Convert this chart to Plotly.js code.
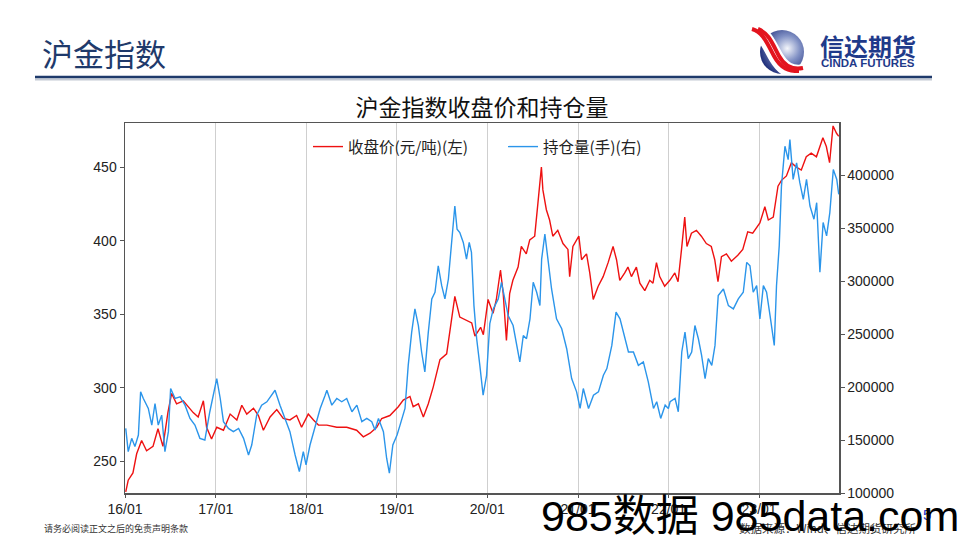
<!DOCTYPE html>
<html>
<head>
<meta charset="utf-8">
<script src="https://cdn.plot.ly/plotly-3.0.1.min.js"></script>
<style>html,body{margin:0;padding:0;background:#fff;}#chart{width:960px;height:540px;}</style>
</head>
<body>
<div id="chart"></div>
<script>
// ---- Data ----
const redDates = ['2016-01-04','2016-01-14','2016-02-02','2016-02-17','2016-03-08','2016-03-28','2016-04-23','2016-05-13','2016-06-02','2016-06-22','2016-07-07','2016-07-27','2016-08-23','2016-09-11','2016-10-02','2016-10-22','2016-11-12','2016-11-25','2016-12-15',
'2017-01-05','2017-02-01','2017-02-28','2017-03-27','2017-04-16','2017-05-06','2017-06-02','2017-06-22','2017-07-12','2017-08-08','2017-09-04','2017-09-30','2017-10-27','2017-11-23','2017-12-13',
'2018-01-09','2018-01-30','2018-02-19','2018-03-25','2018-05-04','2018-06-13','2018-07-23','2018-08-19','2018-09-15','2018-10-12','2018-11-01','2018-12-04',
'2019-01-07','2019-01-27','2019-02-23','2019-03-08','2019-03-29','2019-04-18','2019-05-08','2019-05-28','2019-06-24','2019-07-21','2019-08-10','2019-08-23','2019-09-12','2019-10-09','2019-10-30','2019-11-12','2019-12-05','2019-12-16',
'2020-01-04','2020-01-24','2020-02-06','2020-02-23','2020-03-05','2020-03-18','2020-03-31','2020-04-13','2020-05-04','2020-05-17','2020-06-06','2020-06-20','2020-07-10','2020-07-23','2020-08-06','2020-08-12','2020-08-26','2020-09-08','2020-09-21','2020-10-11','2020-11-01','2020-11-21','2020-11-28','2020-12-11',
'2021-01-04','2021-01-15','2021-02-04','2021-02-17','2021-03-03','2021-03-23','2021-04-12','2021-05-02','2021-05-22','2021-06-05','2021-06-18','2021-07-08','2021-07-21','2021-08-04','2021-08-24','2021-09-07','2021-09-27','2021-10-17','2021-10-30','2021-11-13','2021-11-26','2021-12-16',
'2022-01-06','2022-01-26','2022-02-08','2022-02-22','2022-03-07','2022-03-16','2022-04-03','2022-04-23','2022-05-13','2022-06-02','2022-06-22','2022-07-06','2022-07-19','2022-08-02','2022-08-22','2022-09-11','2022-10-07','2022-10-27','2022-11-16','2022-12-06',
'2023-01-04','2023-01-24','2023-02-07','2023-02-27','2023-03-18','2023-04-01','2023-04-21','2023-05-11','2023-05-31','2023-06-20','2023-07-10','2023-07-30','2023-08-20','2023-09-15','2023-09-29','2023-10-12','2023-10-26','2023-11-09','2023-11-18'];
const redValues = [229,237,242,255,264,257,260,272,260,283,296,289,291,287,283,280,291,273,265,
273,271,282,278,288,282,286,281,271,280,285,279,278,281,273,
282,278,274.5,274.5,273,273,271,266.5,269,273,279,281,
287,291.5,294,287,289,280,289,300.5,319,323,346,362,348,346,344,335,341,336,
360,350.5,359.6,380,364,332,364,373,382,396,391,400.5,403,425.5,450,434.5,421,414,403,407,398,394,375.5,396,
403,387,391,378,360,369,375.5,385,396,387,373,378,382,375.5,382,371,366,373,371,385,375.5,369,
373,378,372,394,416,396,405,407,403,398,396,387,372,389,391,386,390,394,406,405,
412,423,414,416,437,441,444,453,450,448,457,459.5,457,470,464,453,478,473,471];

const blueDates = ['2016-01-04','2016-01-14','2016-01-28','2016-02-10','2016-02-24','2016-03-04','2016-03-15','2016-04-04','2016-04-18','2016-05-01','2016-05-14','2016-05-28','2016-06-10','2016-06-24','2016-07-03','2016-07-21','2016-08-10','2016-08-30','2016-09-19','2016-10-09','2016-10-29','2016-11-18','2016-12-08',
'2017-01-05','2017-01-19','2017-02-01','2017-02-21','2017-03-13','2017-04-03','2017-04-23','2017-05-13','2017-05-26','2017-06-15','2017-07-05','2017-07-26','2017-08-15','2017-08-28','2017-09-17','2017-10-07','2017-10-27','2017-11-17','2017-12-04','2017-12-20','2017-12-31',
'2018-01-16','2018-02-06','2018-02-26','2018-03-18','2018-03-25','2018-04-14','2018-05-04','2018-05-24','2018-06-13','2018-07-04','2018-07-24','2018-08-13','2018-09-02','2018-09-22','2018-10-05','2018-10-19','2018-11-08','2018-11-21','2018-12-02','2018-12-16',
'2019-01-02','2019-01-14','2019-02-03','2019-02-16','2019-03-02','2019-03-15','2019-03-29','2019-04-11','2019-04-24','2019-05-08','2019-05-22','2019-06-04','2019-06-17','2019-07-01','2019-07-14','2019-07-28','2019-08-10','2019-08-23','2019-09-01','2019-09-12','2019-09-26','2019-10-09','2019-10-20','2019-10-29','2019-11-08','2019-11-19','2019-12-02','2019-12-15','2019-12-29',
'2020-01-11','2020-01-25','2020-02-14','2020-02-27','2020-03-12','2020-03-25','2020-04-14','2020-05-04','2020-05-11','2020-05-25','2020-06-07','2020-06-21','2020-07-04','2020-07-18','2020-07-31','2020-08-07','2020-08-20','2020-09-03','2020-09-16','2020-10-06','2020-10-27','2020-11-16','2020-12-06','2020-12-26',
'2021-01-09','2021-01-22','2021-02-12','2021-03-04','2021-03-24','2021-04-13','2021-04-27','2021-05-17','2021-06-03','2021-06-19','2021-07-03','2021-07-23','2021-08-12','2021-09-01','2021-09-21','2021-10-11','2021-11-01','2021-11-14','2021-11-30','2021-12-18','2021-12-31',
'2022-01-07','2022-01-27','2022-02-09','2022-02-23','2022-03-08','2022-03-21','2022-04-04','2022-04-17','2022-05-01','2022-05-14','2022-05-28','2022-06-10','2022-06-24','2022-07-07','2022-07-20','2022-08-10','2022-08-30','2022-09-19','2022-10-09','2022-10-29','2022-11-12','2022-11-25','2022-12-08','2022-12-22',
'2023-01-04','2023-01-18','2023-01-31','2023-02-14','2023-03-03','2023-03-12','2023-03-23','2023-04-01','2023-04-15','2023-04-28','2023-05-05','2023-05-18','2023-06-01','2023-06-14','2023-06-28','2023-07-11','2023-07-25','2023-08-10','2023-08-21','2023-09-03','2023-09-16','2023-09-30','2023-10-13','2023-10-27','2023-11-10','2023-11-18'];
const blueValues = [161000,139000,151600,143800,154700,195500,189200,179800,164100,184500,164100,173500,139100,157900,198600,189200,190800,182900,170400,164100,151600,150000,176700,
208000,189200,167300,161000,157900,161000,151600,135900,145300,173500,182900,186100,192300,197000,182900,170400,157900,135900,120300,139100,126500,
145300,164100,179800,192300,197000,182900,189200,186100,189200,176700,182900,167300,170400,167300,159400,170400,157900,132800,118700,145300,
154700,164100,179800,220500,251900,273800,258000,233100,214300,251900,283200,289500,314500,295700,283200,302000,333300,370900,349000,345900,336500,320800,336500,327100,276900,245600,220000,192300,211100,
260000,273800,283200,298900,283200,267500,258100,233100,223700,248700,245600,264400,298900,289500,276900,320800,344300,317700,292600,264400,255000,236200,208000,195500,
179800,198600,179800,192300,195500,211100,217400,239300,270700,264400,251900,233100,233100,220500,223700,204900,179800,186100,170400,182900,179800,
186100,189200,176700,233100,251900,226800,233100,258100,245600,229900,208000,226800,220500,239300,286300,292600,276900,273800,283200,289500,317700,314500,289500,295700,
264400,295700,289500,267500,239300,295700,333300,389700,427300,414700,433600,396000,411700,392900,377200,396000,370900,358400,374000,308300,355300,342700,364700,405400,396000,381900];

const seriesNames = ['收盘价(元/吨)(左)', '持仓量(手)(右)'];
const leftTicks = [250, 300, 350, 400, 450];
const rightTicks = [100000, 150000, 200000, 250000, 300000, 350000, 400000];

// ---- Layout helpers (pixel -> paper) ----
const L = 125, R = 839, T = 123, B = 493;
const W = R - L, H = B - T;
const px = v => (v - L) / W;
const py = v => (B - v) / H;

const CJK = '"Noto Sans CJK SC", "Noto Sans", sans-serif';
const NUM = '"Liberation Sans", Arial, sans-serif';

const traces = [
  {x: redDates, y: redValues, name: seriesNames[0], type: 'scatter', mode: 'lines',
   line: {color: '#ee1111', width: 1.4}, yaxis: 'y'},
  {x: blueDates, y: blueValues, name: seriesNames[1], type: 'scatter', mode: 'lines',
   line: {color: '#2b95ea', width: 1.4}, yaxis: 'y2'}
];

const logoSvg = "<svg xmlns='http://www.w3.org/2000/svg' width='60' height='48' viewBox='0 0 60 48'>" +
  "<defs><radialGradient id='g' cx='0.62' cy='0.42' r='0.65'><stop offset='0' stop-color='#f4f6fb'/><stop offset='0.45' stop-color='#8090c4'/><stop offset='1' stop-color='#1c2c78'/></radialGradient></defs>" +
  "<circle cx='33' cy='25' r='22' fill='url(#g)'/>" +
  "<path d='M4 3 C 16 6, 20 18, 27 30 S 42 46, 52 45' stroke='#ffffff' stroke-width='15' fill='none'/>" +
  "<path d='M3 2 C 14 5, 18 16, 25 29 S 40 44, 50 44' stroke='#e3141e' stroke-width='4' fill='none'/>" +
  "<path d='M9 2 C 20 6, 24 18, 30 29 S 44 43, 54 41' stroke='#e3141e' stroke-width='4' fill='none'/>" +
  "</svg>";

const layout = {
  width: 960, height: 540,
  margin: {l: L, r: 960 - R, t: T, b: 540 - B, pad: 0},
  paper_bgcolor: '#ffffff', plot_bgcolor: '#ffffff',
  showlegend: true,
  title: {text: '沪金指数收盘价和持仓量', x: 0.5, xref: 'paper', xanchor: 'center',
          y: (540 - 108) / 540, yref: 'container', yanchor: 'middle',
          font: {family: CJK, size: 23, color: '#111'}},
  legend: {orientation: 'h', x: px(308), y: py(130), xanchor: 'left', yanchor: 'top',
           entrywidth: 150, entrywidthmode: 'pixels', bgcolor: 'rgba(255,255,255,0)',
           font: {family: CJK, size: 15.5, color: '#222'}},
  xaxis: {type: 'date', range: ['2016-01-01', '2023-11-19'],
          tick0: '2016-01-01', dtick: 'M12', tickformat: '%y/%m',
          showgrid: true, gridcolor: '#cfcfcf', gridwidth: 1,
          showline: true, linecolor: '#555', linewidth: 1.5, mirror: true,
          ticks: 'outside', ticklen: 3, tickcolor: '#555',
          tickfont: {family: NUM, size: 14, color: '#222'}, zeroline: false},
  yaxis: {range: [228.3, 480], tickvals: leftTicks, showgrid: false, zeroline: false,
          showline: true, linecolor: '#555', linewidth: 1.5,
          ticks: 'outside', ticklen: 4, tickcolor: '#555',
          tickfont: {family: NUM, size: 14, color: '#222'}},
  yaxis2: {range: [100000, 449250], tickvals: rightTicks, tickformat: 'd',
           overlaying: 'y', side: 'right', showgrid: false, zeroline: false,
           showline: true, linecolor: '#555', linewidth: 1.5,
           ticks: 'outside', ticklen: 4, tickcolor: '#555',
           tickfont: {family: NUM, size: 14, color: '#222'}},
  shapes: [
    {type: 'line', xref: 'paper', yref: 'paper', x0: px(35), x1: px(932), y0: py(79.5), y1: py(79.5),
     line: {color: '#c3c9d3', width: 2}},
    {type: 'line', xref: 'paper', yref: 'paper', x0: px(35), x1: px(932), y0: py(77), y1: py(77),
     line: {color: '#1f3a6b', width: 2.5}}
  ],
  images: [
    {source: 'data:image/svg+xml;charset=utf-8,' + encodeURIComponent(logoSvg),
     xref: 'paper', yref: 'paper', x: px(749), y: py(27), sizex: 60 / W, sizey: 48 / H,
     xanchor: 'left', yanchor: 'top', sizing: 'stretch', layer: 'above'}
  ],
  annotations: [
    {text: '沪金指数', xref: 'paper', yref: 'paper', x: px(40), y: py(53), xanchor: 'left', yanchor: 'middle',
     showarrow: false, font: {family: CJK, size: 31, color: '#1f3a6b'}},
    {text: '<b>信达期货</b>', xref: 'paper', yref: 'paper', x: px(818), y: py(46), xanchor: 'left', yanchor: 'middle',
     showarrow: false, font: {family: CJK, size: 24, color: '#1f3a8a'}},
    {text: '<b>CINDA FUTURES</b>', xref: 'paper', yref: 'paper', x: px(819), y: py(63.5), xanchor: 'left', yanchor: 'middle',
     showarrow: false, font: {family: NUM, size: 11.5, color: '#1f3a8a'}},
    {text: '请务必阅读正文之后的免责声明条款', xref: 'paper', yref: 'paper', x: px(42), y: py(528), xanchor: 'left', yanchor: 'middle',
     showarrow: false, font: {family: CJK, size: 9, color: '#333'}},
    {text: '数据来源：Wind、信达期货研究所', xref: 'paper', yref: 'paper', x: px(737), y: py(528), xanchor: 'left', yanchor: 'middle',
     showarrow: false, font: {family: CJK, size: 11.5, color: '#333'}},
    {text: '5', xref: 'paper', yref: 'paper', x: px(927), y: py(514), xanchor: 'center', yanchor: 'middle',
     showarrow: false, font: {family: NUM, size: 15, color: '#2233cc'}},
    {text: '985数据 985data.com', xref: 'paper', yref: 'paper', x: px(539), y: py(516), xanchor: 'left', yanchor: 'middle',
     showarrow: false, font: {family: '"Liberation Sans", "Noto Sans CJK SC", sans-serif', size: 43, color: '#000'}}
  ]
};

Plotly.newPlot('chart', traces, layout, {staticPlot: true, displayModeBar: false});
</script>
</body>
</html>
